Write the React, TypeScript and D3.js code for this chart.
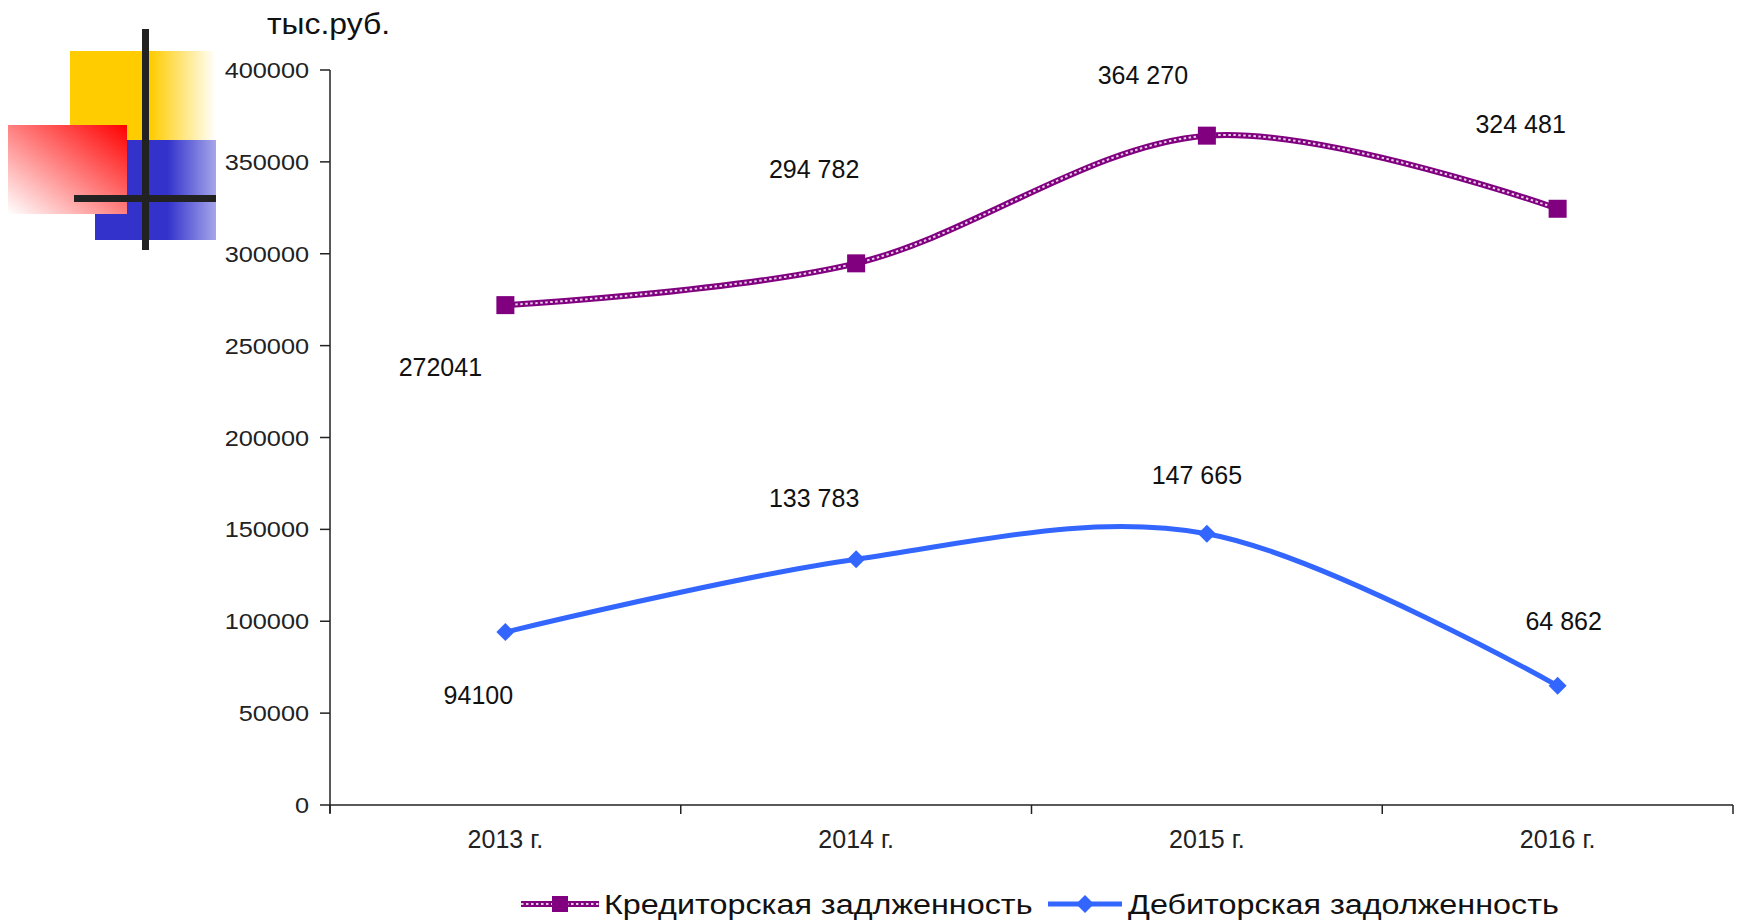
import React from "react";
import * as d3 from "d3";

const categories = ["2013 г.", "2014 г.", "2015 г.", "2016 г."];
const creditValues = [272041, 294782, 364270, 324481];
const debitValues = [94100, 133783, 147665, 64862];
const creditLabels = ["272041", "294 782", "364 270", "324 481"];
const debitLabels = ["94100", "133 783", "147 665", "64 862"];
const yTicks = [0, 50000, 100000, 150000, 200000, 250000, 300000, 350000, 400000];
const seriesNames = ["Кредиторская задлженность", "Дебиторская задолженность"];
const unitLabel = "тыс.руб.";

// label offsets (layout only)
const creditOffsets = [[-65, 71], [-42, -85], [-64, -52], [-37, -76]];
const debitOffsets = [[-27, 72], [-42, -52], [-10, -50], [6, -56]];

const W = 1739, H = 923;
const left = 330, right = 1733, top = 70, bottom = 805;
const PURPLE = "#800080";
const BLUE = "#3366ff";
const FONT = "'Liberation Sans', Arial, sans-serif";

export default function App() {
  const x = d3.scaleBand().domain(categories).range([left, right]);
  const y = d3.scaleLinear().domain([0, 400000]).range([bottom, top]);
  const cx = (c: string) => (x(c) as number) + x.bandwidth() / 2;
  const line = d3
    .line<number>()
    .x((_, i) => cx(categories[i]))
    .y((v) => y(v))
    .curve(d3.curveCardinal.tension(0));
  const creditPath = line(creditValues) || "";
  const debitPath = line(debitValues) || "";
  const boundaries = [...categories.map((c) => x(c) as number), right];

  const diamond = (px: number, py: number, r: number) =>
    `M${px},${py - r}L${px + r},${py}L${px},${py + r}L${px - r},${py}Z`;

  return (
    <svg width={W} height={H} style={{ position: "absolute", left: 0, top: 0, background: "#fff" }} fontFamily={FONT}>
      <defs>
        <linearGradient id="gy" x1="0" x2="1" y1="0" y2="0">
          <stop offset="0" stopColor="#ffcc00" />
          <stop offset="0.55" stopColor="#ffcc00" />
          <stop offset="1" stopColor="#ffffff" />
        </linearGradient>
        <linearGradient id="gb" x1="0" x2="1" y1="0" y2="0">
          <stop offset="0" stopColor="#3333cc" />
          <stop offset="0.6" stopColor="#3333cc" />
          <stop offset="1" stopColor="#a6a6ea" />
        </linearGradient>
        <linearGradient id="gr" x1="0" x2="1" y1="1" y2="0">
          <stop offset="0" stopColor="#ffffff" />
          <stop offset="1" stopColor="#ff0000" />
        </linearGradient>
      </defs>
      {/* decoration */}
      <rect x={70} y={51} width={146} height={89} fill="url(#gy)" />
      <rect x={95} y={140} width={121} height={100} fill="url(#gb)" />
      <rect x={8} y={125} width={119} height={89} fill="url(#gr)" />
      <rect x={142} y={29} width={7} height={221} fill="#222" />
      <rect x={74} y={195} width={142} height={7} fill="#222" />

      <g transform="translate(267,34) scale(1.1,1)">
        <text x={0} y={0} fontSize={29} fill="#111">{unitLabel}</text>
      </g>

      {/* y axis */}
      <line x1={left} x2={left} y1={top} y2={bottom + 8} stroke="#222" strokeWidth={1.5} />
      {yTicks.map((t) => (
        <g key={t}>
          <line x1={left - 10} x2={left} y1={y(t)} y2={y(t)} stroke="#222" strokeWidth={1.5} />
          <g transform={`translate(309,${y(t) + 8}) scale(1.15,1)`}>
            <text textAnchor="end" fontSize={22} fill="#222">{t}</text>
          </g>
        </g>
      ))}
      {/* x axis */}
      <line x1={left} x2={right} y1={bottom} y2={bottom} stroke="#222" strokeWidth={1.5} />
      {boundaries.map((b, i) => (
        <line key={i} x1={b} x2={b} y1={bottom} y2={bottom + 9} stroke="#222" strokeWidth={1.5} />
      ))}
      {categories.map((c) => (
        <text key={c} x={cx(c)} y={848} textAnchor="middle" fontSize={25} fill="#222">{c}</text>
      ))}

      {/* credit line */}
      <path d={creditPath} fill="none" stroke={PURPLE} strokeWidth={6} />
      <path d={creditPath} fill="none" stroke="#fff" strokeWidth={2} strokeDasharray="2.5 2.5" opacity={0.8} />
      {creditValues.map((v, i) => (
        <rect key={i} x={cx(categories[i]) - 9} y={y(v) - 9} width={18} height={18} fill={PURPLE} />
      ))}
      {/* debit line */}
      <path d={debitPath} fill="none" stroke={BLUE} strokeWidth={5} />
      {debitValues.map((v, i) => (
        <path key={i} d={diamond(cx(categories[i]), y(v), 9)} fill={BLUE} />
      ))}

      {/* data labels */}
      {creditValues.map((v, i) => (
        <text key={i} x={cx(categories[i]) + creditOffsets[i][0]} y={y(v) + creditOffsets[i][1]} textAnchor="middle" fontSize={25} fill="#111">{creditLabels[i]}</text>
      ))}
      {debitValues.map((v, i) => (
        <text key={i} x={cx(categories[i]) + debitOffsets[i][0]} y={y(v) + debitOffsets[i][1]} textAnchor="middle" fontSize={25} fill="#111">{debitLabels[i]}</text>
      ))}

      {/* legend */}
      <g>
        <line x1={521} x2={599} y1={904} y2={904} stroke={PURPLE} strokeWidth={6} />
        <line x1={521} x2={599} y1={904} y2={904} stroke="#fff" strokeWidth={2} strokeDasharray="2.5 2.5" opacity={0.8} />
        <rect x={552} y={896} width={16} height={16} fill={PURPLE} />
        <g transform="translate(604,914) scale(1.155,1)">
          <text x={0} y={0} fontSize={28} fill="#111">{seriesNames[0]}</text>
        </g>
        <line x1={1048} x2={1122} y1={904} y2={904} stroke={BLUE} strokeWidth={5} />
        <path d={diamond(1085, 904, 9)} fill={BLUE} />
        <g transform="translate(1128,914) scale(1.155,1)">
          <text x={0} y={0} fontSize={28} fill="#111">{seriesNames[1]}</text>
        </g>
      </g>
    </svg>
  );
}
